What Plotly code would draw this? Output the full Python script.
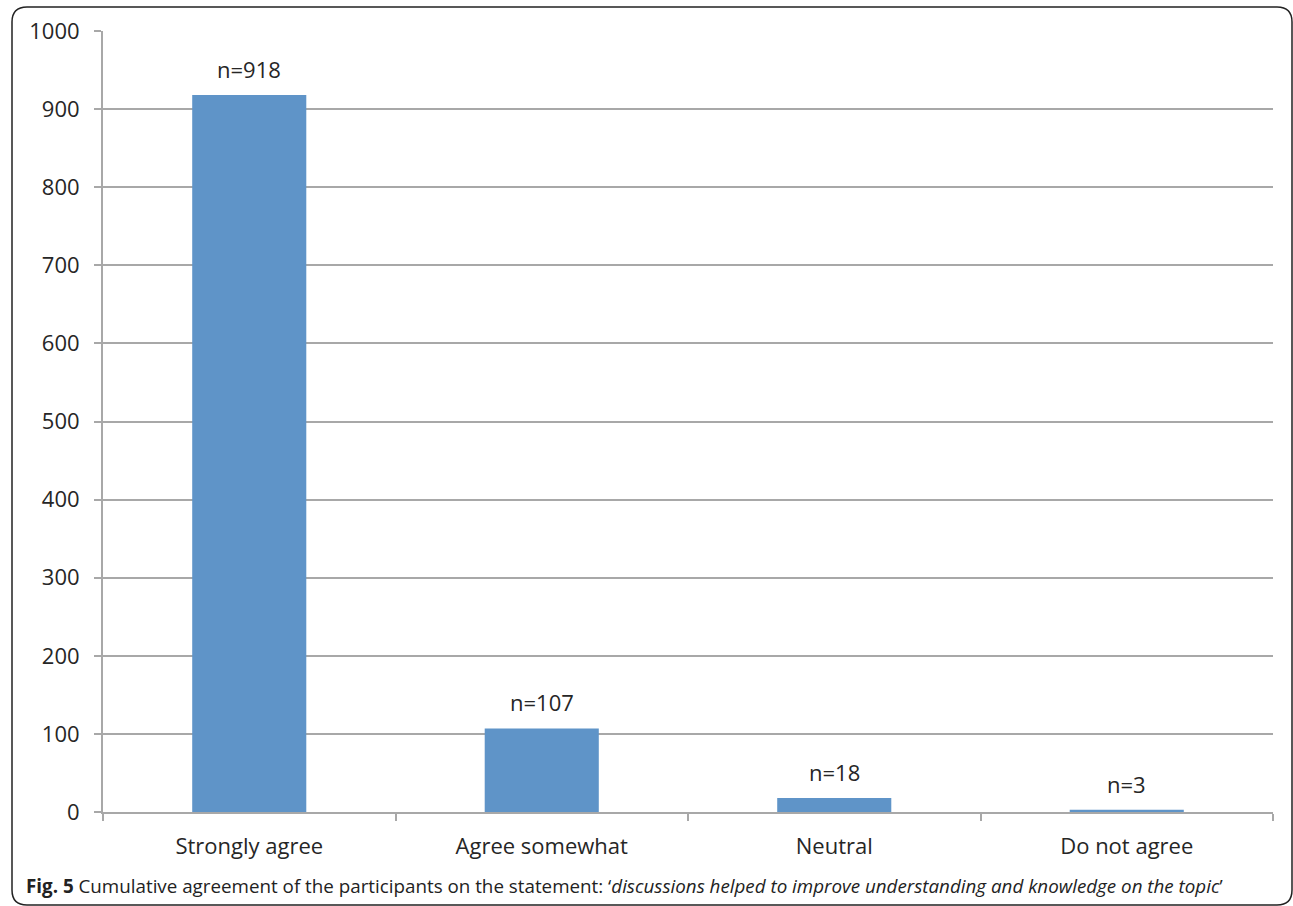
import plotly.graph_objects as go

categories = ["Strongly agree", "Agree somewhat", "Neutral", "Do not agree"]
counts = [918, 107, 18, 3]
label_texts = ["n=918", "n=107", "n=18", "n=3"]
y_ticks = [0, 100, 200, 300, 400, 500, 600, 700, 800, 900, 1000]

W, H = 1293, 906
L, R, T, B = 103, 20, 31, 94
pw, ph = W - L - R, H - T - B

def px(x):
    return (x - L) / pw

def py(y):
    return (H - B - y) / ph

BAR = "#5F94C8"
GRID = "#A8A8A8"
FONT = "Open Sans"
TXT = "#262626"

fig = go.Figure()
fig.add_trace(go.Bar(x=categories, y=counts, marker=dict(color=BAR, line=dict(width=0)),
                     width=0.39, hoverinfo="x+y"))

for c, v, t in zip(categories, counts, label_texts):
    fig.add_annotation(x=c, y=v, text=t, showarrow=False, yanchor="bottom", yshift=9,
                       font=dict(family=FONT, size=22, color=TXT))

# caption
fig.add_annotation(xref="paper", yref="paper", x=px(24), y=py(886), xanchor="left", yanchor="middle",
                   showarrow=False,
                   text="<b>Fig. 5</b> Cumulative agreement of the participants on the statement: "
                        "\u2018<i>discussions helped to improve understanding and knowledge on the topic</i>\u2019",
                   font=dict(family=FONT, size=18.8, color="#222222"))

# rounded border
x0, x1, y0, y1, r = 12, 1292, 7, 905, 15
path = (f"M {px(x0+r)} {py(y0)} L {px(x1-r)} {py(y0)} "
        f"Q {px(x1)} {py(y0)} {px(x1)} {py(y0+r)} "
        f"L {px(x1)} {py(y1-r)} Q {px(x1)} {py(y1)} {px(x1-r)} {py(y1)} "
        f"L {px(x0+r)} {py(y1)} Q {px(x0)} {py(y1)} {px(x0)} {py(y1-r)} "
        f"L {px(x0)} {py(y0+r)} Q {px(x0)} {py(y0)} {px(x0+r)} {py(y0)} Z")
fig.add_shape(type="path", path=path, xref="paper", yref="paper",
              line=dict(color="#222222", width=1.5), layer="above")

fig.update_layout(
    width=W, height=H,
    margin=dict(l=L, r=R, t=T, b=B, autoexpand=False),
    paper_bgcolor="white", plot_bgcolor="white",
    showlegend=False,
    font=dict(family=FONT, size=22, color=TXT),
    xaxis=dict(type="category", showline=True, linecolor=GRID, linewidth=2,
               ticks="outside", tickson="boundaries", ticklen=7, tickcolor=GRID, tickwidth=2,
               ticklabelstandoff=14,
               showgrid=False, tickfont=dict(family=FONT, size=22, color=TXT)),
    yaxis=dict(range=[0, 1000], tickvals=y_ticks, showline=True, linecolor=GRID, linewidth=2,
               ticks="outside", ticklen=7, tickcolor=GRID, tickwidth=2,
               ticklabelstandoff=10,
               showgrid=True, gridcolor=GRID, gridwidth=2, zeroline=False,
               tickfont=dict(family=FONT, size=22, color=TXT)),
)

fig.write_html("out.html", config={"displayModeBar": False},
               post_script="document.body.style.margin='0';document.body.style.overflow='hidden';")
